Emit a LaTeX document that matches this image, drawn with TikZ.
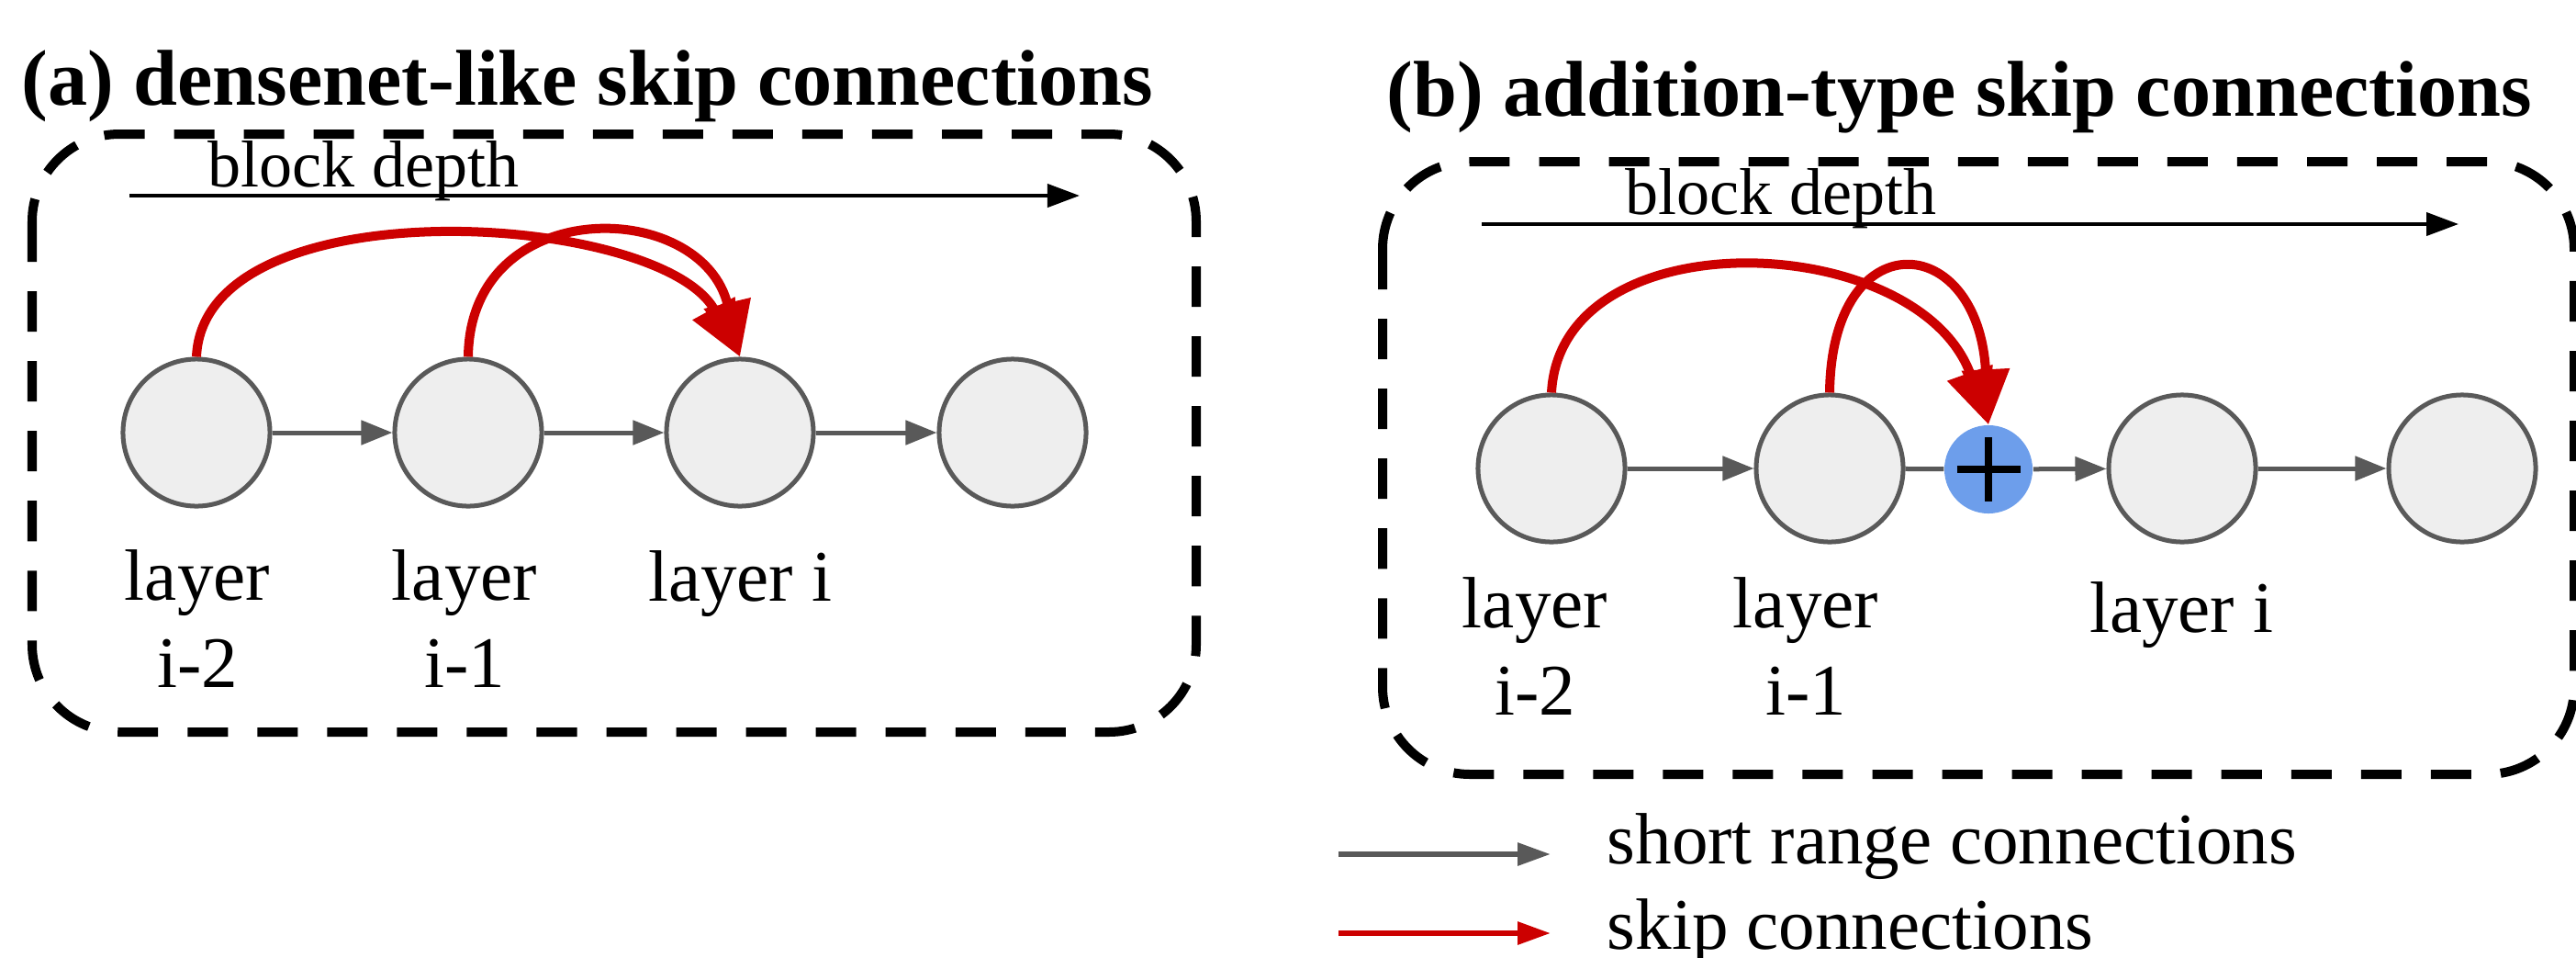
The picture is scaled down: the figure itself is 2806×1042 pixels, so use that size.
\documentclass[tikz,border=0pt]{standalone}
\usepackage{fontspec}
\setmainfont{Liberation Serif}
\usetikzlibrary{arrows.meta}
\definecolor{edgegray}{HTML}{595959}
\definecolor{cellfill}{HTML}{EEEEEE}
\definecolor{skipred}{HTML}{CC0000}
\definecolor{sumblue}{HTML}{6D9EEB}

\begin{document}
\begin{tikzpicture}[x=0.01cm, y=-0.01cm,
  layer/.style={circle, draw=edgegray, fill=cellfill, line width=0.05cm, minimum size=1.6cm, inner sep=0pt},
  sumnode/.style={circle, fill=sumblue, minimum size=0.96cm, inner sep=0pt},
  shortconn/.style={draw=edgegray, line width=0.05cm, -{Triangle[length=0.34cm,width=0.26cm]}},
  plainconn/.style={draw=edgegray, line width=0.05cm},
  skipconn/.style={draw=skipred, line width=0.1cm, -{Triangle[length=0.6cm,width=0.5cm]}},
  depthconn/.style={draw=black, line width=0.04cm, -{Triangle[length=0.35cm,width=0.25cm]}},
  blockframe/.style={draw=black, line width=0.1cm, dash pattern=on 0.44cm off 0.32cm, rounded corners=0.95cm},
  titletext/.style={font=\fontsize{24.5}{29}\selectfont\bfseries, inner sep=0pt, anchor=base west},
  labeltext/.style={font=\fontsize{22.5}{26.9}\selectfont, inner sep=0pt, align=center, anchor=base},
  depthtext/.style={font=\fontsize{20.5}{24}\selectfont, inner sep=0pt, anchor=base},
  legendtext/.style={font=\fontsize{22.5}{26.9}\selectfont, inner sep=0pt, anchor=base west},
]
\useasboundingbox (0,0) rectangle (2806,1042);

% ---------- (a) densenet-like skip connections ----------
\node[titletext] (titleA) at (23,114) {(a) densenet-like skip connections};
\draw[blockframe] (35,146) rectangle (1303,797);

\coordinate (depthAs) at (141,213);
\coordinate (depthAe) at (1176,213);
\draw[depthconn] (depthAs) -- (depthAe);
\node[depthtext] (depthA) at (396,203) {block depth};

\node[layer] (a1) at (214,471) {};
\node[layer] (a2) at (510,471) {};
\node[layer] (a3) at (806,471) {};
\node[layer] (a4) at (1103,471) {};

\draw[shortconn] (a1) -- (a2);
\draw[shortconn] (a2) -- (a3);
\draw[shortconn] (a3) -- (a4);

\draw[skipconn] (a1.north) .. controls (222,200) and (720,230) .. (a3.north);
\draw[skipconn] (a2.north) .. controls (512,210) and (765,215) .. (a3.north);

% two-line labels: the base anchor sits on the last line
\node[labeltext] (la1) at (215,748) {layer\\i-2};
\node[labeltext] (la2) at (506,748) {layer\\i-1};
\node[labeltext] (la3) at (806,654) {layer i};

% ---------- (b) addition-type skip connections ----------
\node[titletext] (titleB) at (1510,126) {(b) addition-type skip connections};
\draw[blockframe] (1506,176) rectangle (2804,843);

\coordinate (depthBs) at (1614,244);
\coordinate (depthBe) at (2678,244);
\draw[depthconn] (depthBs) -- (depthBe);
\node[depthtext] (depthB) at (1940,233) {block depth};

\node[layer] (b1) at (1690,510) {};
\node[layer] (b2) at (1993,510) {};
\node[sumnode] (bsum) at (2166,511) {};
\node[layer] (b3) at (2377,510) {};
\node[layer] (b4) at (2682,510) {};

\draw[line width=0.08cm, black] ([xshift=-0.345cm]bsum.center) -- ([xshift=0.345cm]bsum.center);
\draw[line width=0.08cm, black] ([yshift=-0.345cm]bsum.center) -- ([yshift=0.345cm]bsum.center);

\draw[shortconn] (b1) -- (b2);
\draw[plainconn] (b2) -- (bsum);
\draw[shortconn] (bsum) -- (b3);
\draw[shortconn] (b3) -- (b4);

\draw[skipconn] (b1.north) .. controls (1700,235) and (2090,250) .. (bsum.north);
\draw[skipconn] (b2.north) .. controls (1995,240) and (2155,250) .. (bsum.north);

\node[labeltext] (lb1) at (1672,778) {layer\\i-2};
\node[labeltext] (lb2) at (1967,778) {layer\\i-1};
\node[labeltext] (lb3) at (2376,688) {layer i};

% ---------- legend ----------
\coordinate (legShortS) at (1458,930);
\coordinate (legShortE) at (1689,930);
\draw[draw=edgegray, line width=0.06cm, -{Triangle[length=0.36cm,width=0.24cm]}] (legShortS) -- (legShortE);
\node[legendtext] (legShort) at (1750,940) {short range connections};

\coordinate (legSkipS) at (1458,1016);
\coordinate (legSkipE) at (1689,1016);
\draw[draw=skipred, line width=0.06cm, -{Triangle[length=0.36cm,width=0.24cm]}] (legSkipS) -- (legSkipE);
\node[legendtext] (legSkip) at (1750,1033) {skip connections};
\end{tikzpicture}
\end{document}
